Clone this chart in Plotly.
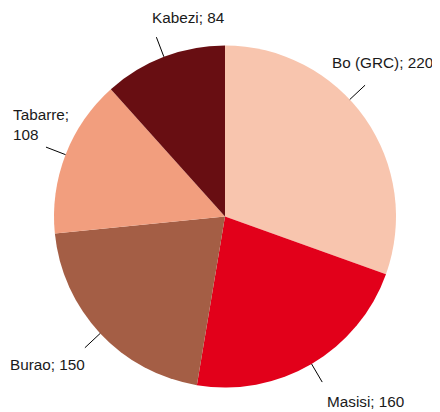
import math
import plotly.graph_objects as go

labels = ["Bo (GRC)", "Masisi", "Burao", "Tabarre", "Kabezi"]
values = [220, 160, 150, 108, 84]
label_texts = ["Bo (GRC); 220", "Masisi; 160", "Burao; 150", "Tabarre;<br>108", "Kabezi; 84"]

colors = ["#F8C5AE", "#E2001A", "#A45E45", "#F29E7E", "#680E12"]

OFF = 8  # page body margin
W, H = 440 - OFF, 412 - OFF
CX, CY, R = 225, 216.5, 171
LEAD = 21
FONT = dict(family="Liberation Sans, Arial, sans-serif", size=15.3, color="#1a1a1a")

# leader angle tweak (deg) and label placement relative to leader end
lead_shift = [-8, 0, 0, 0, 0]
label_place = [
    dict(xanchor="left", xshift=-34, yshift=23, align="left"),
    dict(xanchor="left", xshift=4, yshift=-19, align="left"),
    dict(xanchor="right", xshift=1, yshift=-17, align="left"),
    dict(xanchor="left", xshift=-34, yshift=23, align="left"),
    dict(xanchor="left", xshift=-5, yshift=20, align="left"),
]

def px(x):
    return (x - OFF) / W

def py(y):
    return 1 - (y - OFF) / H

fig = go.Figure()
fig.add_trace(go.Pie(
    labels=labels, values=values, sort=False, direction="clockwise", rotation=0,
    marker=dict(colors=colors, line=dict(width=0)),
    textinfo="none", hoverinfo="label+value", showlegend=False,
    domain=dict(x=[px(CX - R), px(CX + R)], y=[py(CY + R), py(CY - R)]),
))

total = sum(values)
cum = 0
shapes, annotations = [], []
for i, v in enumerate(values):
    mid = (cum + v / 2) / total * 360 + lead_shift[i]
    cum += v
    a = math.radians(mid)
    x0, y0 = CX + R * math.sin(a), CY - R * math.cos(a)
    x1, y1 = CX + (R + LEAD) * math.sin(a), CY - (R + LEAD) * math.cos(a)
    shapes.append(dict(type="line", xref="paper", yref="paper",
                       x0=px(x0), y0=py(y0), x1=px(x1), y1=py(y1),
                       line=dict(color="#000000", width=1)))
    p = label_place[i]
    annotations.append(dict(text=label_texts[i], xref="paper", yref="paper",
                            x=px(x1), y=py(y1), showarrow=False,
                            xanchor=p["xanchor"], yanchor="middle",
                            xshift=p["xshift"], yshift=p["yshift"], align=p["align"],
                            borderpad=0, font=FONT))

fig.update_layout(
    width=W, height=H, margin=dict(l=0, r=0, t=0, b=0),
    paper_bgcolor="white", plot_bgcolor="white",
    shapes=shapes, annotations=annotations,
)
fig.write_html("out.html")
